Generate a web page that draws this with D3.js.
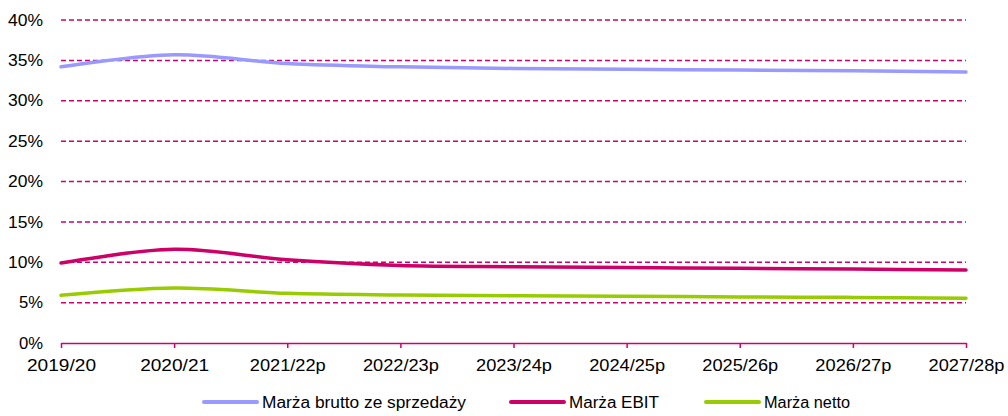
<!DOCTYPE html>
<html>
<head>
<meta charset="utf-8">
<script src="https://cdn.jsdelivr.net/npm/d3@7"></script>
<style>
  html, body { margin: 0; padding: 0; background: #fff; }
  svg text { font-family: "Liberation Sans", Arial, sans-serif; fill: #000; }
</style>
</head>
<body>
<svg id="chart" width="1008" height="416"></svg>
<script>
// Fiscal years (p = forecast)
const categories = ["2019/20", "2020/21", "2021/22p", "2022/23p", "2023/24p", "2024/25p", "2025/26p", "2026/27p", "2027/28p"];
// Margins in percent
const grossMargin = [34.2, 35.7, 34.6, 34.2, 34.0, 33.9, 33.8, 33.7, 33.55];
const ebitMargin  = [9.9, 11.6, 10.3, 9.6, 9.45, 9.35, 9.25, 9.15, 9.05];
const netMargin   = [5.9, 6.8, 6.15, 5.95, 5.85, 5.8, 5.7, 5.65, 5.55];
const yTicks = [0, 5, 10, 15, 20, 25, 30, 35, 40];
const seriesNames = ["Marża brutto ze sprzedaży", "Marża EBIT", "Marża netto"];

const colors = ["#9999ff", "#cc0066", "#99cc00"];
const gridColor = "#d0006f";
const series = [grossMargin, ebitMargin, netMargin];

const svg = d3.select("#chart");
const plotLeft = 61, plotRight = 966, plotTop = 20, plotBottom = 343;

const x = d3.scalePoint().domain(categories).range([plotLeft, plotRight]);
const y = d3.scaleLinear().domain([0, 40]).range([plotBottom, plotTop]);

// Dashed horizontal gridlines
svg.append("g")
  .selectAll("line")
  .data(yTicks.filter(d => d > 0))
  .join("line")
  .attr("x1", plotLeft).attr("x2", plotRight)
  .attr("y1", d => y(d)).attr("y2", d => y(d))
  .attr("stroke", gridColor)
  .attr("stroke-width", 1.5)
  .attr("stroke-dasharray", "5,3");

// Y axis labels (wide Arial-like rendering)
const yAxis = d3.axisLeft(y).tickValues(yTicks).tickFormat(d => d + "%").tickSize(0).tickPadding(0);
const gy = svg.append("g").attr("transform", `translate(${plotLeft - 18},0)`).call(yAxis);
gy.select(".domain").remove();
gy.selectAll("text")
  .attr("font-size", 16)
  .attr("font-family", "Liberation Sans, Arial, sans-serif")
  .attr("fill", "#000")
  .attr("textLength", function () { return this.textContent.length === 2 ? 24 : 35; })
  .attr("lengthAdjust", "spacingAndGlyphs");

// X axis with downward ticks
const xAxis = d3.axisBottom(x).tickSize(5).tickSizeOuter(0).tickPadding(12);
const gx = svg.append("g").attr("transform", `translate(0,${plotBottom})`).call(xAxis);
gx.select(".domain").attr("stroke", gridColor).attr("stroke-width", 1.5);
gx.selectAll(".tick line").attr("stroke", gridColor).attr("stroke-width", 1.5);
gx.selectAll("text")
  .attr("font-size", 16)
  .attr("font-family", "Liberation Sans, Arial, sans-serif")
  .attr("fill", "#000")
  .attr("textLength", function () { return this.textContent.length === 7 ? 69 : 76; })
  .attr("lengthAdjust", "spacingAndGlyphs");

// Smoothed lines
const line = d3.line()
  .x((d, i) => x(categories[i]))
  .y(d => y(d))
  .curve(d3.curveCardinal.tension(0));

svg.append("g")
  .selectAll("path")
  .data(series)
  .join("path")
  .attr("d", d => line(d))
  .attr("fill", "none")
  .attr("stroke", (d, i) => colors[i])
  .attr("stroke-width", 3.5)
  .attr("stroke-linecap", "round");

// Legend
const legendItems = [
  { name: seriesNames[0], color: colors[0], x: 204, w: 204 },
  { name: seriesNames[1], color: colors[1], x: 511, w: 90 },
  { name: seriesNames[2], color: colors[2], x: 706, w: 86 }
];
const lg = svg.append("g").selectAll("g").data(legendItems).join("g")
  .attr("transform", d => `translate(${d.x},402)`);
lg.append("line").attr("x1", 0).attr("x2", 53).attr("y1", 0).attr("y2", 0)
  .attr("stroke", d => d.color).attr("stroke-width", 4).attr("stroke-linecap", "round");
lg.append("text").attr("x", 58).attr("y", 0).attr("dy", "0.35em")
  .attr("font-size", 16)
  .attr("textLength", d => d.w)
  .attr("lengthAdjust", "spacingAndGlyphs")
  .text(d => d.name);
</script>
</body>
</html>
